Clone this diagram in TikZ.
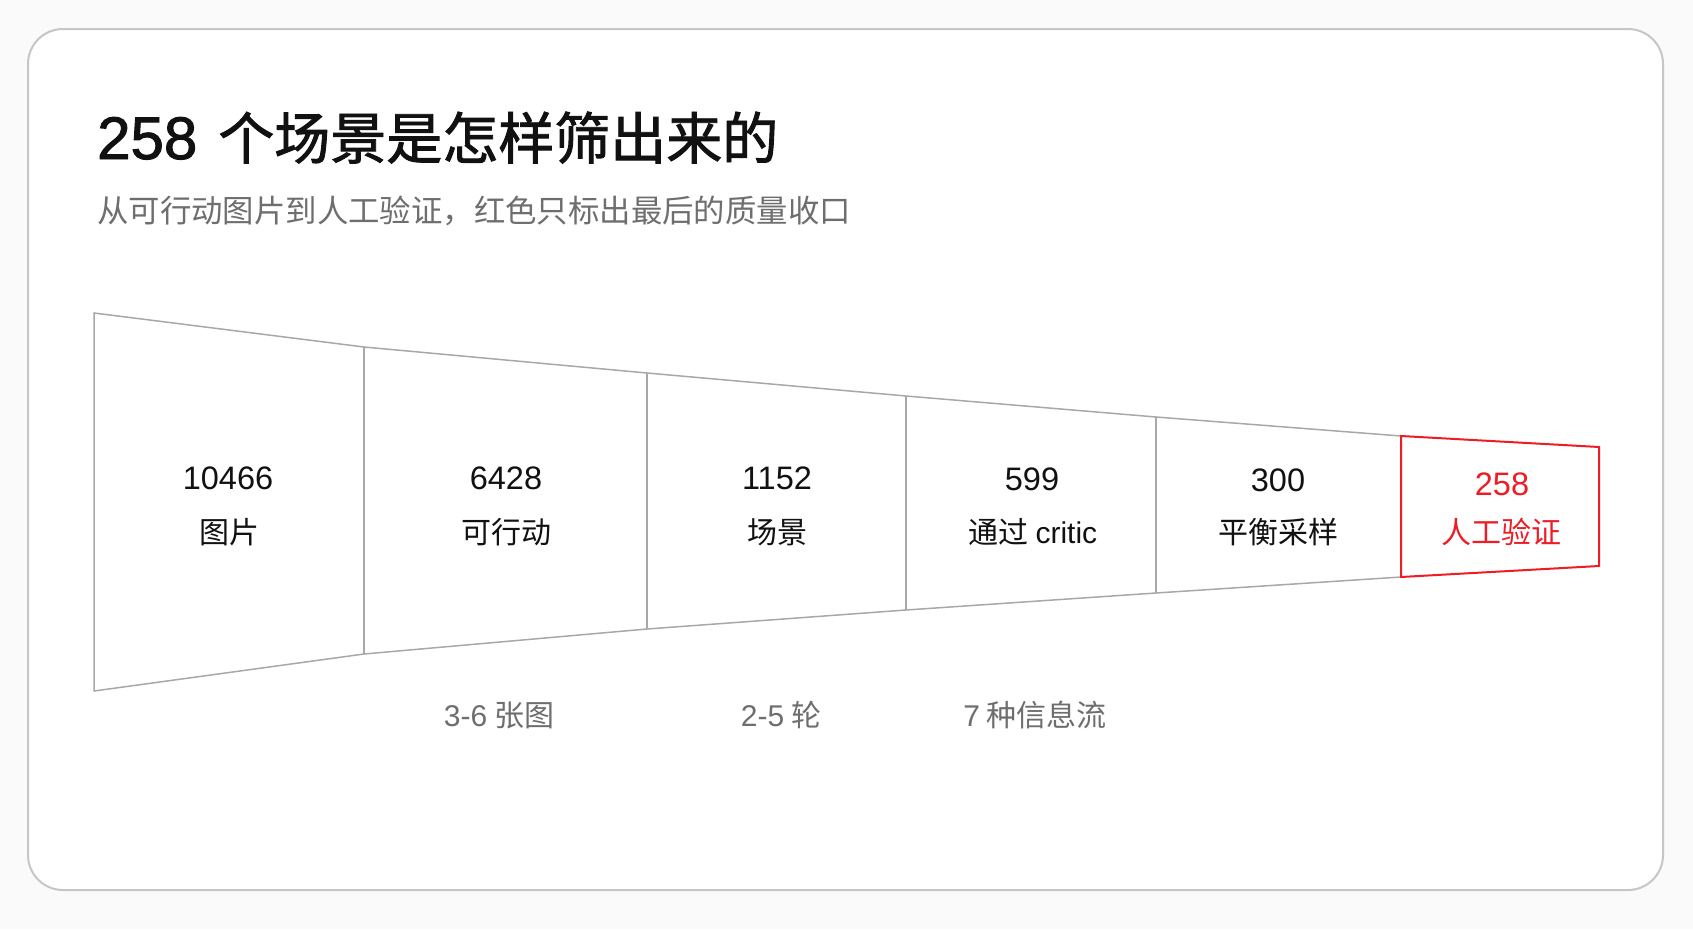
\documentclass[tikz,border=0pt]{standalone}
\usepackage{fontspec}
\setmainfont{Noto Sans CJK SC}
\newfontfamily\titlefont[FakeBold=1.6]{Noto Sans CJK SC}
\newfontfamily\lat{Liberation Sans}
\newfontfamily\latb[FakeBold=1.6]{Liberation Sans}
\definecolor{bgc}{HTML}{FAFAFA}
\definecolor{frameg}{HTML}{C6C6C6}
\definecolor{lineg}{HTML}{A8A8A8}
\definecolor{subg}{HTML}{6E6E6E}
\definecolor{txt}{HTML}{111111}
\definecolor{redc}{HTML}{EE1C25}
\tikzset{
  titletxt/.style={anchor=base west, inner sep=0pt, text=txt, font=\titlefont\fontsize{56}{64}\selectfont},
  subtxt/.style={anchor=base west, inner sep=0pt, text=subg, font=\fontsize{31.4}{36}\selectfont},
  numtxt/.style={anchor=base, inner sep=0pt, text=txt, font=\lat\fontsize{32.5}{38}\selectfont},
  labtxt/.style={anchor=base, inner sep=0pt, text=txt, font=\fontsize{30}{36}\selectfont},
  notetxt/.style={anchor=base, inner sep=0pt, text=subg, font=\fontsize{30}{36}\selectfont},
  funnelline/.style={draw=lineg, line width=1.5pt, line join=miter},
  redline/.style={draw=redc, line width=2pt, line join=miter},
}
\begin{document}
\begin{tikzpicture}[x=1pt,y=-1pt]
\fill[bgc] (0,0) rectangle (1693,929);
\useasboundingbox (0,0) rectangle (1693,929);
\draw[frameg, line width=2pt, rounded corners=35pt, fill=white] (28,29) rectangle (1663,890);

% title
\node[titletxt] (title) at (97,159) {{\latb\fontsize{60}{64}\selectfont 258}\hspace{21pt}个场景是怎样筛出来的};
\node[subtxt] (subtitle) at (97,222) {从可行动图片到人工验证，红色只标出最后的质量收口};

% funnel coordinates
\coordinate (t0) at (94,313);   \coordinate (b0) at (94,691);
\coordinate (t1) at (364,347);  \coordinate (b1) at (364,654);
\coordinate (t2) at (647,373);  \coordinate (b2) at (647,629);
\coordinate (t3) at (906,396);  \coordinate (b3) at (906,610);
\coordinate (t4) at (1156,417); \coordinate (b4) at (1156,593);
\coordinate (t5) at (1401,436); \coordinate (b5) at (1401,577);
\coordinate (t6) at (1599,447); \coordinate (b6) at (1599,566);

\draw[funnelline] (t5) -- (t4) -- (t3) -- (t2) -- (t1) -- (t0) -- (b0) -- (b1) -- (b2) -- (b3) -- (b4) -- (b5);
\draw[funnelline] (t1) -- (b1);
\draw[funnelline] (t2) -- (b2);
\draw[funnelline] (t3) -- (b3);
\draw[funnelline] (t4) -- (b4);
\draw[redline] (t5) -- (t6) -- (b6) -- (b5) -- cycle;

% stage texts
\node[numtxt] (n0) at (228,489) {10466};
\node[labtxt] (l0) at (229,543) {图片};
\node[numtxt] (n1) at (506,489) {6428};
\node[labtxt] (l1) at (506,543) {可行动};
\node[numtxt] (n2) at (777,489) {1152};
\node[labtxt] (l2) at (777,543) {场景};
\node[numtxt] (n3) at (1032,490) {599};
\node[labtxt] (l3) at (1033,543) {通过 {\lat critic}};
\node[numtxt] (n4) at (1278,491) {300};
\node[labtxt] (l4) at (1278,543) {平衡采样};
\node[numtxt, text=redc] (n5) at (1502,495) {258};
\node[labtxt, text=redc] (l5) at (1501,543) {人工验证};

% notes
\node[notetxt] (m1) at (499,726) {{\lat 3-6} 张图};
\node[notetxt] (m2) at (781,726) {{\lat 2-5} 轮};
\node[notetxt] (m3) at (1035,726) {{\lat 7} 种信息流};
\end{tikzpicture}
\end{document}
